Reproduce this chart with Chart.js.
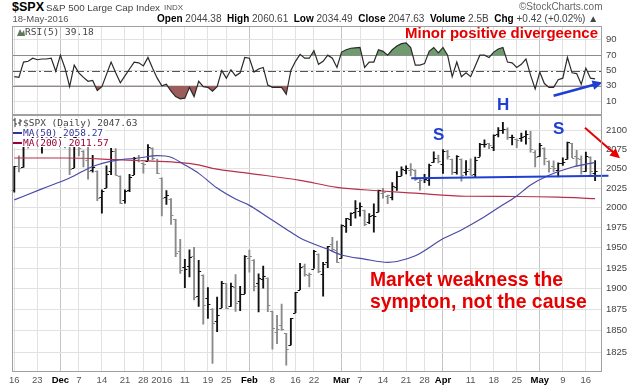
<!DOCTYPE html>
<html>
<head>
<meta charset="utf-8">
<script src="https://cdn.jsdelivr.net/npm/chart.js@4.4.1/dist/chart.umd.min.js"></script>
<style>
  body { margin: 0; background: #fff; }
  #wrap { position: relative; width: 640px; height: 385px; overflow: hidden; font-family: "Liberation Sans", Arial, sans-serif; }
  #wrap canvas { position: absolute; left: 0; }
  .t { position: absolute; white-space: nowrap; line-height: 1; }
  .mono { font-family: "DejaVu Sans Mono", monospace; font-size: 9.5px; color: #444; }
  .leg { background: #fff; padding-right: 2px; }
  .red { color: #e60000; font-weight: bold; }
  .blue { color: #1f3fd0; font-weight: bold; }
  .sw { display: inline-block; width: 9px; height: 2px; vertical-align: middle; margin-right: 1px; }
  b { color: #000; }
</style>
</head>
<body>
<div id="wrap">
  <canvas id="rsi" width="640" height="89" style="top:26px"></canvas>
  <canvas id="price" width="640" height="270" style="top:115px"></canvas>

  <div class="t" style="left:12px;top:1px;font-size:12.5px;font-weight:bold;">$SPX</div>
  <div class="t" id="spxname" style="left:46px;top:2.5px;font-size:10px;color:#444;">S&amp;P 500 Large Cap Index</div>
  <div class="t" style="left:164px;top:3.5px;font-size:8px;color:#555;">INDX</div>
  <div class="t" style="left:519px;top:2px;font-size:10px;color:#666;">©StockCharts.com</div>
  <div class="t" style="left:12.5px;top:14px;font-size:9.5px;color:#555;">18-May-2016</div>
  <div class="t" id="quote" style="left:157px;top:14px;font-size:10px;color:#444;">
    <b>Open</b> 2044.38 &nbsp;<b>High</b> 2060.61 &nbsp;<b>Low</b> 2034.49 &nbsp;<b>Close</b> 2047.63 &nbsp;<b>Volume</b> 2.5B &nbsp;<b>Chg</b> +0.42 (+0.02%) ▲
  </div>

  <div class="t mono" style="left:17px;top:27px;">
    <svg width="8" height="8" style="vertical-align:-1px"><polygon points="0,8 3,1 5,5 7,2 8,8" fill="#5a7a5a"/></svg>RSI(5) 39.18
  </div>
  <div class="t red" id="minor" style="left:405px;top:26px;font-size:15px;">Minor positive divergeence</div>

  <div class="t mono leg" style="left:13px;top:117.5px;">
    <svg width="10" height="9" style="vertical-align:-1px"><path d="M2 0V9M0 2H2M2 6H4M7 1V8M5 5H7M7 3H9" stroke="#333" stroke-width="1" fill="none"/></svg>$SPX (Daily) 2047.63
  </div>
  <div class="t mono leg" style="left:13px;top:127.5px;color:#333399;"><span class="sw" style="background:#333399"></span>MA(50) 2058.27</div>
  <div class="t mono leg" style="left:13px;top:137.5px;color:#990033;"><span class="sw" style="background:#990033"></span>MA(200) 2011.57</div>

  <div class="t blue" style="left:433px;top:126px;font-size:17px;">S</div>
  <div class="t blue" style="left:497px;top:95.5px;font-size:17px;">H</div>
  <div class="t blue" style="left:553px;top:119.5px;font-size:17px;">S</div>

  <div class="t red" id="mkt1" style="left:370px;top:270px;font-size:20px;">Market weakness the</div>
  <div class="t red" id="mkt2" style="left:370px;top:292px;font-size:20px;">sympton, not the cause</div>
</div>

<script>
// trading days shown (Nov 16 2015 .. May 18 2016)
const dates = [
  "11/16","11/17","11/18","11/19","11/20","11/23","11/24","11/25","11/27","11/30",
  "12/1","12/2","12/3","12/4","12/7","12/8","12/9","12/10","12/11","12/14","12/15","12/16","12/17","12/18","12/21","12/22","12/23","12/24","12/28","12/29","12/30","12/31",
  "1/4","1/5","1/6","1/7","1/8","1/11","1/12","1/13","1/14","1/15","1/19","1/20","1/21","1/22","1/25","1/26","1/27","1/28","1/29",
  "2/1","2/2","2/3","2/4","2/5","2/8","2/9","2/10","2/11","2/12","2/16","2/17","2/18","2/19","2/22","2/23","2/24","2/25","2/26","2/29",
  "3/1","3/2","3/3","3/4","3/7","3/8","3/9","3/10","3/11","3/14","3/15","3/16","3/17","3/18","3/21","3/22","3/23","3/24","3/28","3/29","3/30","3/31",
  "4/1","4/4","4/5","4/6","4/7","4/8","4/11","4/12","4/13","4/14","4/15","4/18","4/19","4/20","4/21","4/22","4/25","4/26","4/27","4/28","4/29",
  "5/2","5/3","5/4","5/5","5/6","5/9","5/10","5/11","5/12","5/13","5/16","5/17","5/18"
];

const openP = [
  2022.08,2053.67,2051.99,2083.70,2082.82,2089.41,2084.42,2089.30,2088.82,2090.95,
  2082.93,2101.71,2080.71,2051.24,2090.42,2073.39,2061.17,2047.93,2047.27,2013.37,2025.55,2046.50,2073.76,2040.81,2010.27,2023.15,2042.20,2063.52,2057.77,2060.54,2077.34,2060.59,
  2038.20,2013.78,2011.71,1985.32,1945.97,1926.12,1927.83,1940.34,1891.68,1916.68,1888.66,1876.18,1861.46,1877.40,1906.28,1878.79,1902.52,1885.22,1894.00,
  1936.94,1935.26,1907.07,1911.67,1913.07,1873.25,1848.46,1857.10,1847.00,1833.40,1871.44,1898.80,1927.57,1916.74,1924.44,1942.38,1917.56,1931.87,1954.95,1947.13,
  1937.09,1976.60,1985.60,1994.01,1996.11,1996.88,1981.44,1990.97,1994.71,2019.27,2015.27,2014.24,2026.90,2041.16,2047.88,2048.64,2048.55,2032.48,2037.89,2035.75,2058.27,2063.77,
  2056.62,2073.19,2062.50,2045.56,2063.01,2045.54,2050.23,2043.72,2065.92,2082.89,2083.10,2078.83,2096.05,2101.52,2102.09,2091.49,2089.37,2089.84,2092.57,2090.93,2071.82,
  2067.17,2077.18,2060.30,2052.95,2047.77,2057.55,2062.63,2083.29,2067.17,2062.50,2046.53,2065.04,2044.38
];
const highP = [
  2053.22,2066.69,2085.31,2089.66,2097.06,2095.61,2094.12,2093.00,2093.29,2093.81,
  2103.37,2104.27,2085.00,2093.84,2090.42,2073.85,2080.33,2067.65,2047.27,2022.92,2053.87,2076.72,2076.37,2040.81,2022.90,2042.74,2064.73,2067.36,2057.77,2081.56,2077.34,2062.54,
  2038.20,2021.94,2011.71,1985.32,1960.40,1935.65,1947.38,1950.33,1934.47,1916.68,1901.44,1876.18,1889.85,1908.85,1906.28,1906.73,1916.99,1902.96,1940.24,
  1947.20,1935.26,1918.01,1927.35,1913.07,1873.25,1868.25,1881.60,1847.00,1864.78,1895.77,1930.68,1930.00,1918.78,1946.70,1942.38,1932.08,1951.83,1962.96,1958.27,
  1978.35,1986.51,1993.69,2009.13,2006.12,1996.88,1992.69,2005.08,2022.37,2024.57,2015.94,2032.02,2046.24,2052.36,2053.91,2056.60,2048.55,2036.04,2042.67,2055.91,2072.21,2067.92,
  2075.07,2074.02,2062.50,2067.33,2063.01,2060.63,2062.93,2065.05,2083.18,2087.84,2083.22,2094.66,2104.05,2111.05,2103.78,2094.32,2089.37,2096.87,2099.89,2099.30,2073.85,
  2083.42,2077.18,2060.30,2060.23,2057.72,2064.15,2084.87,2083.29,2073.99,2066.79,2071.88,2065.69,2060.61
];
const lowP = [
  2019.94,2045.90,2051.99,2076.78,2082.82,2081.39,2070.29,2086.30,2084.13,2080.41,
  2082.93,2077.11,2042.35,2051.24,2066.78,2052.32,2036.53,2045.67,2008.80,1993.26,2025.55,2042.43,2041.66,2005.33,2005.93,2020.49,2042.20,2058.73,2044.20,2060.54,2061.97,2043.62,
  1989.68,2004.17,1979.05,1938.83,1918.46,1901.10,1914.35,1886.41,1878.93,1857.83,1864.60,1812.29,1848.98,1877.40,1875.97,1878.79,1872.70,1873.65,1894.00,
  1920.03,1897.29,1872.23,1900.52,1872.65,1828.46,1834.94,1850.32,1810.10,1833.40,1871.44,1898.80,1915.09,1902.17,1924.44,1919.44,1891.00,1925.41,1945.78,1931.81,
  1937.09,1968.80,1977.37,1986.77,1989.38,1977.43,1979.84,1969.25,1994.71,2012.05,2005.23,2010.04,2022.16,2041.16,2043.14,2040.57,2034.86,2022.49,2031.96,2028.31,2058.27,2057.46,
  2043.98,2062.57,2042.56,2043.09,2033.80,2041.69,2041.88,2039.74,2065.92,2078.13,2076.31,2073.65,2091.68,2096.32,2088.52,2081.20,2077.52,2085.80,2082.31,2071.62,2052.28,
  2066.11,2054.89,2045.55,2045.77,2039.45,2054.31,2062.63,2064.46,2053.13,2043.13,2046.53,2040.82,2034.49
];
const closeP = [
  2053.19,2050.44,2083.58,2081.24,2089.17,2086.59,2089.14,2088.87,2090.11,2080.41,
  2102.63,2079.51,2049.62,2091.69,2077.07,2063.59,2047.62,2052.23,2012.37,2021.94,2043.41,2073.07,2041.89,2005.55,2021.15,2038.97,2064.29,2060.99,2056.50,2078.36,2063.36,2043.94,
  2012.66,2016.71,1990.26,1943.09,1922.03,1923.67,1938.68,1890.28,1921.84,1880.33,1881.33,1859.33,1868.99,1906.90,1877.08,1903.63,1882.95,1893.36,1940.24,
  1939.38,1903.03,1912.53,1915.45,1880.05,1853.44,1852.21,1851.86,1829.08,1864.78,1895.58,1926.82,1917.83,1917.78,1945.50,1921.27,1929.80,1951.70,1948.05,1932.23,
  1978.35,1986.45,1993.40,1999.99,2001.76,1979.26,1989.26,1989.57,2022.19,2019.64,2015.93,2027.22,2040.59,2049.58,2051.60,2049.80,2036.71,2035.94,2037.05,2055.01,2063.95,2059.74,
  2072.78,2066.13,2045.17,2066.66,2041.91,2047.60,2041.99,2061.72,2082.42,2082.78,2080.73,2094.34,2100.80,2102.40,2091.48,2091.58,2087.79,2091.70,2095.15,2075.81,2065.30,
  2081.43,2063.37,2051.12,2050.63,2057.14,2058.69,2084.39,2064.46,2064.11,2046.61,2066.66,2047.21,2047.63
];

const rsi5 = [
  42,41,61,62,66,64,65,65,66,49,
  70,53,29,57,47,41,36,37,24,29,45,61,47,34,43,52,61,60,56,67,53,40,
  30,32,23,16,13,14,28,16,36,29,28,23,29,50,40,51,43,47,67,
  66,48,52,54,31,28,28,28,19,50,62,71,66,66,76,58,62,70,66,54,
  74,77,79,79.5,80,54,61,61,77,75,70,77,82,85,86,80,57,57,59,75,80,73,
  80,70,42,61,42,47,42,56,70,70,67,74,78,80,61,60,54,58,65,44,26,
  48,33,28,28,38,40,67,47,46,32,53,40,39.18
];

// moving averages at a few dates
const ma50Dates = ["11/16","11/24","12/3","12/10","12/17","12/24","12/31","1/6","1/11","1/14","1/21","1/27","2/1","2/5","2/11","2/17","2/25","3/1","3/8","3/15","3/17","3/23","4/1","4/7","4/13","4/19","4/25","4/28","5/4","5/11","5/18"];
const ma50Vals  = [2010,2024,2038,2053,2061,2064,2067,2065,2055,2044,2025,2011,2003,1988,1973,1962,1948,1941,1936,1932,1933,1940,1961,1972,1985,2000,2015,2029,2041.6,2052,2058.27];
const ma200Dates = ["11/16","12/2","12/17","12/30","1/8","1/14","1/20","2/1","2/17","2/29","3/11","3/23","4/8","4/25","5/6","5/18"];
const ma200Vals  = [2064,2064,2062,2060,2058,2055,2050.5,2044,2035,2026,2021.6,2018.5,2014.6,2014.3,2013.4,2011.57];

const tickDates  = ["11/16","11/23","12/1","12/7","12/14","12/21","12/28","1/4","1/11","1/19","1/25","2/1","2/8","2/16","2/22","3/1","3/7","3/14","3/21","3/28","4/1","4/11","4/18","4/25","5/2","5/9","5/16"];
const tickLabels = ["16","23","Dec","7","14","21","28","2016","11","19","25","Feb","8","16","22","Mar","7","14","21","28","Apr","11","18","25","May","9","16"];
const priceTicks = [1825,1850,1875,1900,1925,1950,1975,2000,2025,2050,2075,2100];
const rsiTicks = [10,30,50,70,90];

Chart.defaults.font.family = "Liberation Sans, Arial, sans-serif";
Chart.defaults.animation = false;

const tickIdx = tickDates.map(d => dates.indexOf(d));
const boldTick = l => isNaN(Number(l));
const xLabels = dates.concat([""]);   // one empty slot on the right like the original

const barColors = closeP.map((c, i) => (i === 0 || c >= closeP[i - 1]) ? "#111" : "#8a8a8a");

function xScaleOpts(showTicks) {
  return {
    offset: true,
    grid: {
      offset: false,
      drawTicks: false,
      color: c => (c.tick && boldTick(tickLabels[c.index])) ? "#c4c4c4" : "#e1e1e1"
    },
    border: { display: false },
    afterBuildTicks: axis => { axis.ticks = tickIdx.map(i => ({ value: i })); },
    ticks: {
      display: showTicks,
      autoSkip: false,
      maxRotation: 0,
      padding: 3,
      callback: (v, k) => tickLabels[k],
      font: c => ({ size: 9.5, weight: boldTick(tickLabels[c.index]) ? "bold" : "normal" }),
      color: c => boldTick(tickLabels[c.index]) ? "#000" : "#555"
    },
    afterFit: axis => {
      axis.height = showTicks ? 13.5 : 0;
      axis.paddingLeft = 0; axis.paddingRight = 0;
    }
  };
}

function yScaleRight(extra) {
  return Object.assign({
    position: "right",
    grid: { color: "#e1e1e1", drawTicks: false },
    border: { display: false },
    ticks: { font: { size: 9.5 }, color: "#444", padding: 4 },
    afterFit: axis => {
      axis.width = 38;
      axis.paddingTop = 0; axis.paddingBottom = 0;
    }
  }, extra);
}

// frame around plot area
const frame = {
  id: "frame",
  afterDraw(chart) {
    const a = chart.chartArea, ctx = chart.ctx;
    ctx.save();
    ctx.strokeStyle = "#a0a0a0";
    ctx.lineWidth = 1;
    ctx.strokeRect(Math.round(a.left) + 0.5, Math.round(a.top) + 0.5,
                   Math.round(a.right - a.left) - 1, Math.round(a.bottom - a.top) - 1);
    ctx.restore();
  }
};

function arrow(ctx, x1, y1, x2, y2, color, w, head) {
  const ang = Math.atan2(y2 - y1, x2 - x1);
  ctx.save();
  ctx.strokeStyle = color; ctx.fillStyle = color; ctx.lineWidth = w;
  ctx.beginPath();
  ctx.moveTo(x1, y1);
  ctx.lineTo(x2 - Math.cos(ang) * head * 0.8, y2 - Math.sin(ang) * head * 0.8);
  ctx.stroke();
  ctx.beginPath();
  ctx.moveTo(x2, y2);
  ctx.lineTo(x2 - head * Math.cos(ang - 0.45), y2 - head * Math.sin(ang - 0.45));
  ctx.lineTo(x2 - head * Math.cos(ang + 0.45), y2 - head * Math.sin(ang + 0.45));
  ctx.closePath();
  ctx.fill();
  ctx.restore();
}

// RSI reference lines and the divergence arrow
const rsiLines = {
  id: "rsiLines",
  beforeDatasetsDraw(chart) {
    const { ctx, chartArea: a, scales: { y } } = chart;
    ctx.save();
    ctx.lineWidth = 1;
    [30, 70].forEach(v => {
      const py = Math.round(y.getPixelForValue(v)) + 0.5;
      ctx.strokeStyle = "#8c8c8c";
      ctx.beginPath(); ctx.moveTo(a.left, py); ctx.lineTo(a.right, py); ctx.stroke();
    });
    const p50 = Math.round(y.getPixelForValue(50)) + 0.5;
    ctx.strokeStyle = "#555";
    ctx.setLineDash([8, 3, 2, 3]);
    ctx.beginPath(); ctx.moveTo(a.left, p50); ctx.lineTo(a.right, p50); ctx.stroke();
    ctx.restore();
  },
  afterDraw(chart) {
    const { ctx, scales: { x, y } } = chart;
    arrow(ctx, x.getPixelForValue(117), y.getPixelForValue(17), x.getPixelForValue(127.6),
          y.getPixelForValue(34.5), "#1f3fd0", 2.5, 11);
  }
};

new Chart(document.getElementById("rsi"), {
  type: "line",
  data: {
    labels: xLabels,
    datasets: [
      {
        data: rsi5,
        borderColor: "#2a2a2a",
        borderWidth: 1.2,
        pointRadius: 0,
        tension: 0,
        fill: { target: { value: 70 }, above: "#6f9b6f", below: "rgba(0,0,0,0)" }
      },
      {
        data: rsi5,
        borderWidth: 0,
        pointRadius: 0,
        tension: 0,
        fill: { target: { value: 30 }, above: "rgba(0,0,0,0)", below: "#9c5c5c" }
      }
    ]
  },
  options: {
    responsive: false,
    layout: { padding: { left: 12, right: 0, top: 0, bottom: 0 } },
    plugins: { legend: { display: false }, tooltip: { enabled: false } },
    scales: {
      x: xScaleOpts(false),
      y: yScaleRight({
        min: -8, max: 108,
        afterBuildTicks: axis => { axis.ticks = rsiTicks.map(v => ({ value: v })); }
      })
    }
  },
  plugins: [rsiLines, frame]
});

// open / close ticks on the OHLC bars, plus the pattern annotations
const ohlcTicks = {
  id: "ohlcTicks",
  afterDatasetsDraw(chart) {
    const meta = chart.getDatasetMeta(0);
    const y = chart.scales.y, ctx = chart.ctx;
    ctx.save();
    ctx.lineWidth = 1;
    meta.data.forEach((bar, i) => {
      const yo = Math.round(y.getPixelForValue(openP[i])) + 0.5;
      const yc = Math.round(y.getPixelForValue(closeP[i])) + 0.5;
      ctx.strokeStyle = barColors[i];
      ctx.beginPath();
      ctx.moveTo(bar.x - 2.5, yo); ctx.lineTo(bar.x, yo);
      ctx.moveTo(bar.x, yc); ctx.lineTo(bar.x + 2.5, yc);
      ctx.stroke();
    });
    ctx.restore();
  },
  afterDraw(chart) {
    const { ctx, scales: { x, y } } = chart;
    // neckline
    ctx.save();
    ctx.strokeStyle = "#1f3fd0"; ctx.lineWidth = 2;
    ctx.beginPath();
    ctx.moveTo(x.getPixelForValue(86.1), y.getPixelForValue(2037.6));
    ctx.lineTo(x.getPixelForValue(128.9), y.getPixelForValue(2040.9));
    ctx.stroke();
    ctx.restore();
    arrow(ctx, x.getPixelForValue(123.8), y.getPixelForValue(2104), x.getPixelForValue(131.4),
          y.getPixelForValue(2063.6), "#e60000", 2, 11);
  }
};

new Chart(document.getElementById("price"), {
  data: {
    labels: xLabels,
    datasets: [
      {
        type: "bar",
        order: 1,
        data: lowP.map((l, i) => [l, highP[i]]),
        backgroundColor: barColors,
        barThickness: 1.2
      },
      {
        type: "line",
        order: 0,
        data: ma50Dates.map((d, i) => ({ x: d, y: ma50Vals[i] })),
        borderColor: "#4a4aa8",
        borderWidth: 1.2,
        pointRadius: 0,
        cubicInterpolationMode: "monotone"
      },
      {
        type: "line",
        order: 0,
        data: ma200Dates.map((d, i) => ({ x: d, y: ma200Vals[i] })),
        borderColor: "#b8304e",
        borderWidth: 1.2,
        pointRadius: 0,
        cubicInterpolationMode: "monotone"
      }
    ]
  },
  options: {
    responsive: false,
    layout: { padding: { left: 12, right: 0, top: 0, bottom: 0 } },
    plugins: { legend: { display: false }, tooltip: { enabled: false } },
    scales: {
      x: xScaleOpts(true),
      y: yScaleRight({
        type: "logarithmic",
        min: 1802.9, max: 2121,
        afterBuildTicks: axis => { axis.ticks = priceTicks.map(v => ({ value: v })); },
        ticks: { font: { size: 9.5 }, color: "#444", padding: 4, callback: v => String(v) }
      })
    }
  },
  plugins: [ohlcTicks, frame]
});

// squeeze texts to the widths they have in the original
function fitWidth(id, w) {
  const el = document.getElementById(id);
  const fs = parseFloat(el.style.fontSize);
  const cur = el.getBoundingClientRect().width;
  el.style.fontSize = (fs * w / cur).toFixed(2) + "px";
}
fitWidth("spxname", 114);
fitWidth("minor", 193);
fitWidth("mkt1", 193);
fitWidth("mkt2", 217);
fitWidth("quote", 441);
</script>
</body>
</html>
